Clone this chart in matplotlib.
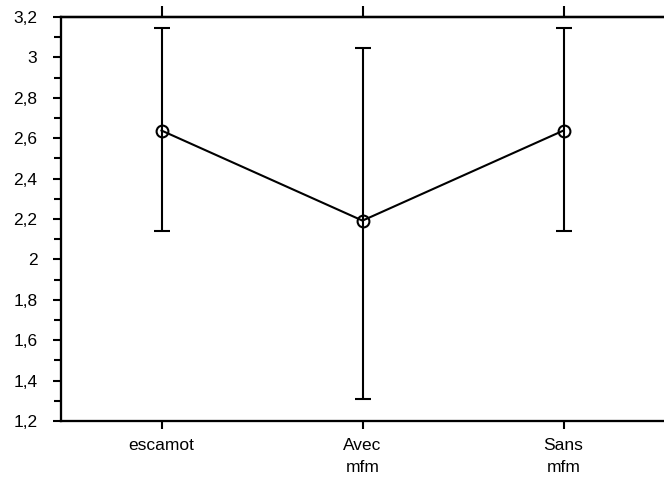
import numpy as np
import matplotlib
matplotlib.use("Agg")
import matplotlib.pyplot as plt
from matplotlib.ticker import MultipleLocator, FuncFormatter

plt.rcParams['font.family'] = ['Liberation Sans', 'DejaVu Sans']

# data
categories = ['escamot', 'Avec\nmfm', 'Sans\nmfm']
means = [2.638, 2.192, 2.638]
lower = [2.142, 1.309, 2.142]
upper = [3.147, 3.048, 3.147]

FS = 12.5
LW = 1.5

fig = plt.figure(figsize=(6.64, 4.86), dpi=100)
ax = fig.add_axes([61 / 664, 65 / 486, 1 - 61 / 664, (421 - 17) / 486])

x = np.arange(len(categories)) + 0.5
m = np.array(means)
yerr = [m - np.array(lower), np.array(upper) - m]

ax.errorbar(x, m, yerr=yerr, color='black', lw=LW, elinewidth=LW,
            capsize=6, capthick=LW, marker='o', ms=8.5, mfc='none',
            mec='black', mew=LW, zorder=3, clip_on=False)

ax.set_xlim(0, 3)
ax.set_ylim(1.2, 3.2)
ax.set_xticks(x)
ax.set_xticklabels(categories, fontsize=FS, linespacing=1.6, va='top')

ax.yaxis.set_major_locator(MultipleLocator(0.2))
ax.yaxis.set_minor_locator(MultipleLocator(0.1))
ax.yaxis.set_major_formatter(FuncFormatter(lambda v, p: f'{v:g}'.replace('.', ',')))

ax.tick_params(axis='y', which='major', direction='out', length=6, width=LW,
               pad=11, labelsize=FS)
ax.tick_params(axis='y', which='minor', direction='out', length=4.8, width=LW)
ax.tick_params(axis='x', direction='out', length=6, width=LW, pad=6)

for side in ['left', 'bottom', 'top']:
    ax.spines[side].set_linewidth(LW * 1.1)
ax.spines['right'].set_visible(False)

# ticks above the top frame, no labels
top = ax.secondary_xaxis('top')
top.set_xticks(x)
top.set_xticklabels([])
top.tick_params(direction='out', length=8, width=LW)
top.spines['top'].set_linewidth(LW * 1.1)

fig.savefig('out.png', dpi=100)
